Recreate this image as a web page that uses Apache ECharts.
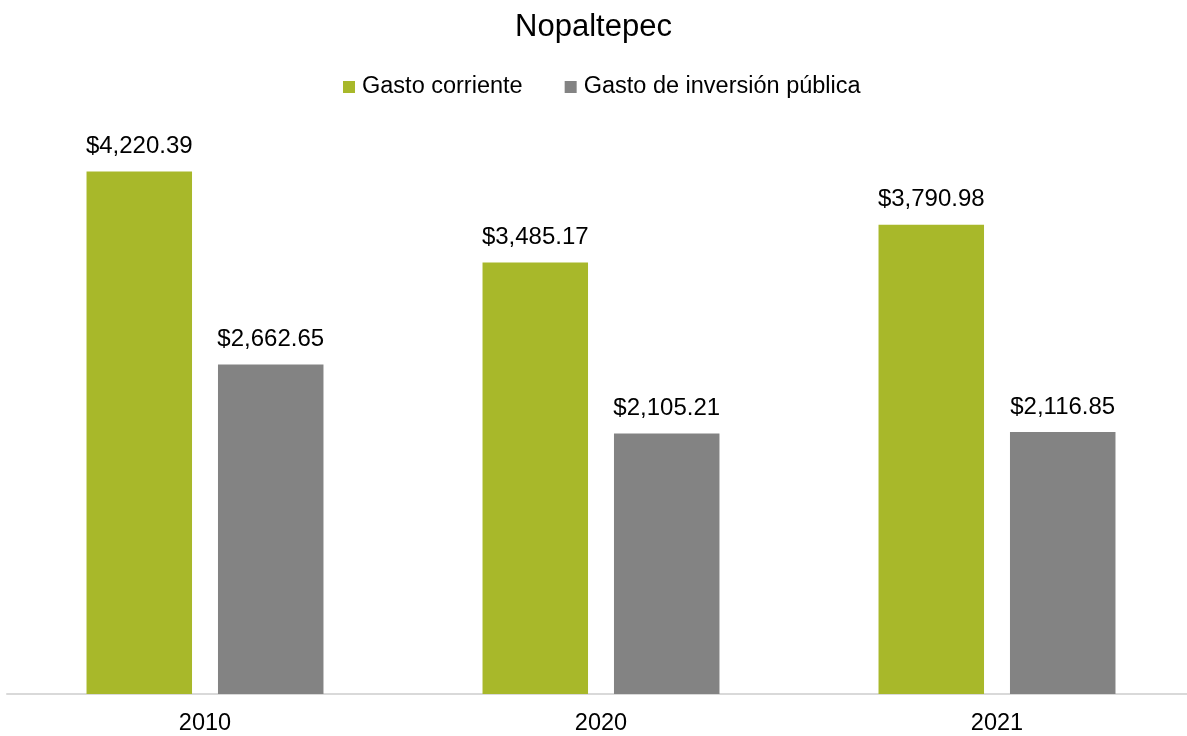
<!DOCTYPE html>
<html>
<head>
<meta charset="utf-8">
<script src="https://cdn.jsdelivr.net/npm/echarts@6/dist/echarts.min.js"></script>
<style>html,body{margin:0;padding:0;background:#fff;}#c{width:1187px;height:736px;}</style>
</head>
<body>
<div id="c"></div>
<script>
var categories = ['2010', '2020', '2021'];
var gastoCorriente = [4220.39, 3485.17, 3790.98];
var gastoInversion = [2662.65, 2105.21, 2116.85];
var seriesNames = ['Gasto corriente', 'Gasto de inversión pública'];

function fmt(v) {
  return '$' + v.toLocaleString('en-US', {minimumFractionDigits: 2, maximumFractionDigits: 2});
}
var font = '"Liberation Sans", Arial, sans-serif';
var chart = echarts.init(document.getElementById('c'));
chart.setOption({
  animation: false,
  title: {
    text: 'Nopaltepec', left: 'center', top: 7,
    textStyle: {fontFamily: font, fontSize: 31, fontWeight: 'normal', color: '#000'}
  },
  legend: {
    top: 75, left: 343, padding: 0, itemWidth: 12, itemHeight: 12, itemGap: 42,
    icon: 'rect',
    textStyle: {fontFamily: font, fontSize: 23.5, color: '#000', padding: [0, 0, 0, 2]},
    data: seriesNames
  },
  grid: {left: 7, width: 1188, top: 137, bottom: 42, containLabel: false, outerBoundsMode: 'none'},
  xAxis: {
    type: 'category', data: categories,
    axisLine: {lineStyle: {color: '#d9d9d9', width: 2}},
    axisTick: {show: false},
    axisLabel: {fontFamily: font, fontSize: 23.5, color: '#000', margin: 18}
  },
  yAxis: {type: 'value', min: 0, max: 4500, show: false, splitLine: {show: false}},
  series: [
    {
      name: seriesNames[0], type: 'bar', data: gastoCorriente,
      barWidth: 105.5, barGap: '24.6%',
      itemStyle: {color: '#a8b82a'},
      label: {show: true, position: 'top', distance: 13, formatter: function(p){return fmt(p.value);},
        fontFamily: font, fontSize: 24, color: '#000'}
    },
    {
      name: seriesNames[1], type: 'bar', data: gastoInversion,
      barWidth: 105.5, barGap: '24.6%',
      itemStyle: {color: '#838383'},
      label: {show: true, position: 'top', distance: 13, formatter: function(p){return fmt(p.value);},
        fontFamily: font, fontSize: 24, color: '#000'}
    }
  ]
});
</script>
</body>
</html>
